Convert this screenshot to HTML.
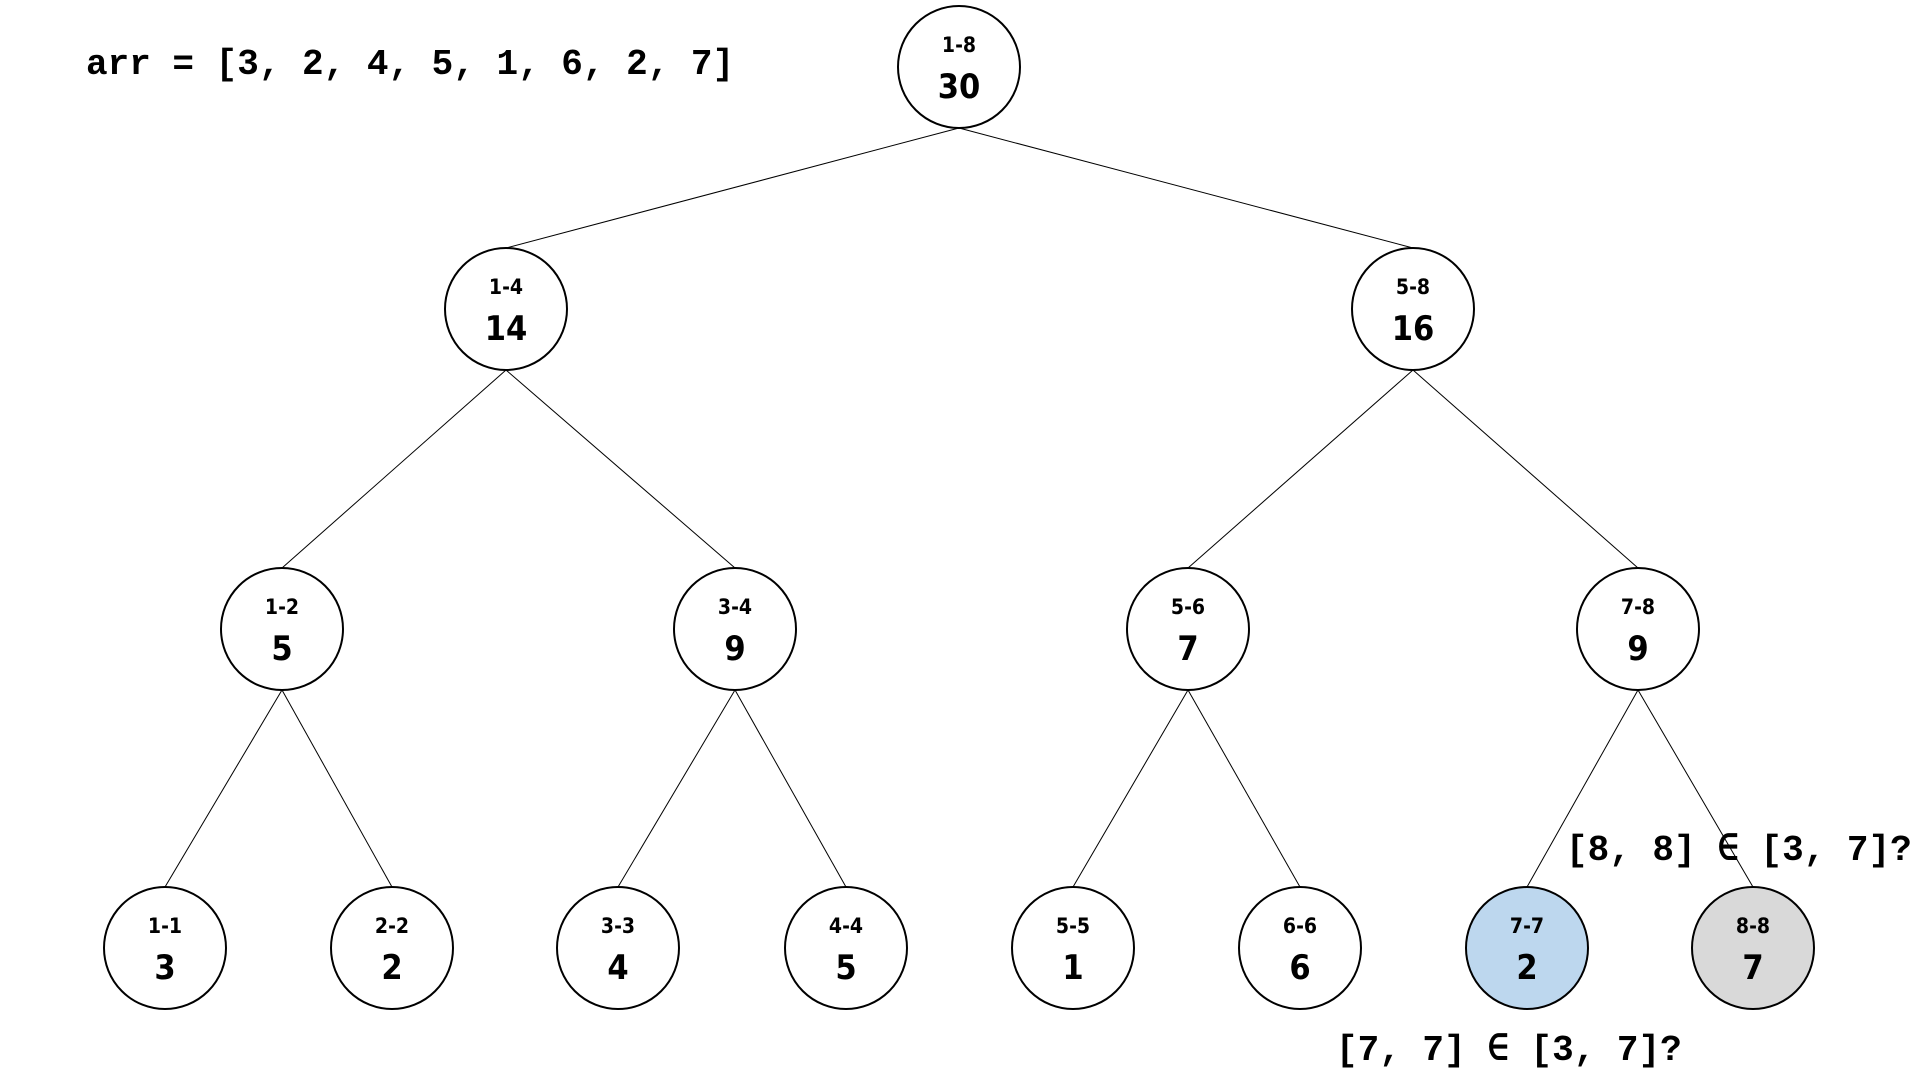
<!DOCTYPE html>
<html><head><meta charset="utf-8"><style>
html,body{margin:0;padding:0;background:#fff;width:1920px;height:1080px;overflow:hidden}
</style></head><body>
<svg width="1920" height="1080" viewBox="0 0 1920 1080" xmlns="http://www.w3.org/2000/svg">
<g stroke="#000" stroke-width="1">
<line x1="959" y1="128" x2="506" y2="248"/>
<line x1="959" y1="128" x2="1413" y2="248"/>
<line x1="506" y1="370" x2="282" y2="568"/>
<line x1="506" y1="370" x2="735" y2="568"/>
<line x1="1413" y1="370" x2="1188" y2="568"/>
<line x1="1413" y1="370" x2="1638" y2="568"/>
<line x1="282" y1="690" x2="165" y2="887"/>
<line x1="282" y1="690" x2="392" y2="887"/>
<line x1="735" y1="690" x2="618" y2="887"/>
<line x1="735" y1="690" x2="846" y2="887"/>
<line x1="1188" y1="690" x2="1073" y2="887"/>
<line x1="1188" y1="690" x2="1300" y2="887"/>
<line x1="1638" y1="690" x2="1527" y2="887"/>
<line x1="1638" y1="690" x2="1753" y2="887"/>
</g>
<g font-family="'DejaVu Sans','Liberation Sans',sans-serif" font-weight="bold" text-anchor="middle" font-stretch="condensed">
<g stroke="#000" stroke-width="2" fill="#fff">
<circle cx="959" cy="67" r="61"/>
<circle cx="506" cy="309" r="61"/><circle cx="1413" cy="309" r="61"/>
<circle cx="282" cy="629" r="61"/><circle cx="735" cy="629" r="61"/><circle cx="1188" cy="629" r="61"/><circle cx="1638" cy="629" r="61"/>
<circle cx="165" cy="948" r="61"/><circle cx="392" cy="948" r="61"/><circle cx="618" cy="948" r="61"/><circle cx="846" cy="948" r="61"/>
<circle cx="1073" cy="948" r="61"/><circle cx="1300" cy="948" r="61"/>
<circle cx="1527" cy="948" r="61" fill="#bdd7ee"/><circle cx="1753" cy="948" r="61" fill="#d9d9d9"/>
</g>
<g font-size="21" fill="#000">
<text x="959" y="52">1-8</text>
<text x="506" y="294">1-4</text><text x="1413" y="294">5-8</text>
<text x="282" y="614">1-2</text><text x="735" y="614">3-4</text><text x="1188" y="614">5-6</text><text x="1638" y="614">7-8</text>
<text x="165" y="933">1-1</text><text x="392" y="933">2-2</text><text x="618" y="933">3-3</text><text x="846" y="933">4-4</text>
<text x="1073" y="933">5-5</text><text x="1300" y="933">6-6</text><text x="1527" y="933">7-7</text><text x="1753" y="933">8-8</text>
</g>
<g font-size="34" fill="#000">
<text x="959" y="98">30</text>
<text x="506" y="340">14</text><text x="1413" y="340">16</text>
<text x="282" y="660">5</text><text x="735" y="660">9</text><text x="1188" y="660">7</text><text x="1638" y="660">9</text>
<text x="165" y="979">3</text><text x="392" y="979">2</text><text x="618" y="979">4</text><text x="846" y="979">5</text>
<text x="1073" y="979">1</text><text x="1300" y="979">6</text><text x="1527" y="979">2</text><text x="1753" y="979">7</text>
</g>
</g>
<g font-family="'Liberation Mono','DejaVu Sans Mono',monospace" font-weight="bold" font-size="36" fill="#000">
<text x="86" y="74">arr = [3, 2, 4, 5, 1, 6, 2, 7]</text>
<text x="1566" y="860">[8, 8] ∈ [3, 7]?</text>
<text x="1336" y="1060">[7, 7] ∈ [3, 7]?</text>
</g>
</svg>
</body></html>
